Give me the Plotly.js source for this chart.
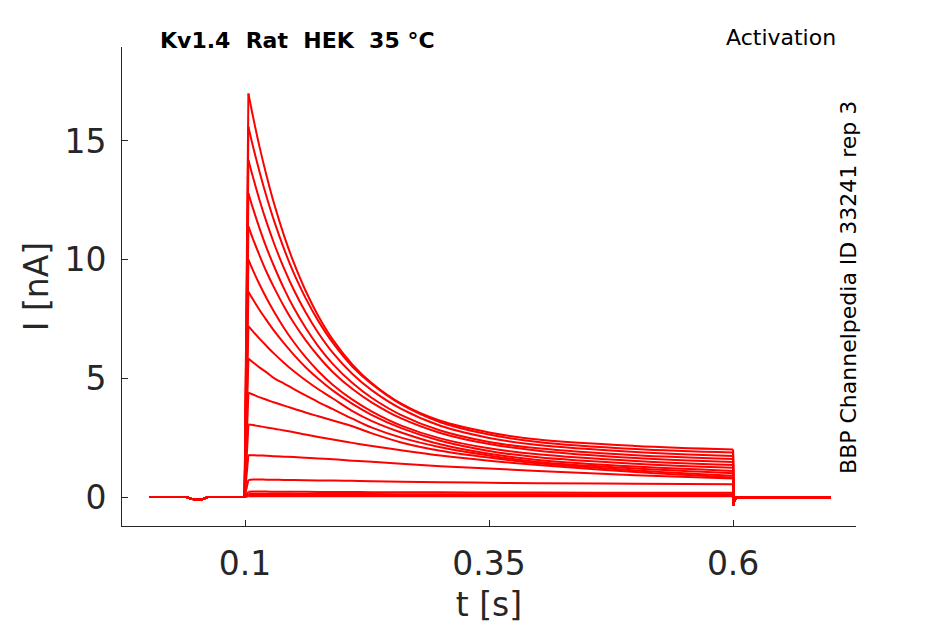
<!DOCTYPE html>
<html>
<head>
<meta charset="utf-8">
<script src="https://cdn.plot.ly/plotly-3.0.1.min.js"></script>
<style>html,body{margin:0;padding:0;background:#fff;}#chart{width:945px;height:624px;}</style>
</head>
<body>
<div id="chart"></div>
<script>
// Time samples (s)
const preT = [0.002, 0.04, 0.045, 0.05, 0.056, 0.062, 0.0995];
const preI = [0.0, 0.0, -0.08, -0.12, -0.1, 0.0, 0.0];
const decayT = [0.1034, 0.108, 0.115, 0.122, 0.13, 0.14, 0.15, 0.162, 0.175, 0.19, 0.21, 0.23, 0.26, 0.3, 0.35, 0.4, 0.5, 0.6];
const postT = [0.6004, 0.601, 0.603, 0.65, 0.7];
const postI = [-0.35, -0.2, -0.03, 0.0, -0.02];

// Current sweeps (nA) read at decayT
const sweep01 = [17.0, 16.05, 14.72, 13.54, 12.32, 11.0, 9.86, 8.69, 7.63, 6.62, 5.58, 4.79, 3.93, 3.21, 2.72, 2.42, 2.15, 2.0];
const sweep02 = [15.6, 14.79, 13.67, 12.65, 11.6, 10.44, 9.42, 8.38, 7.42, 6.49, 5.49, 4.75, 3.9, 3.15, 2.63, 2.32, 2.02, 1.87];
const sweep03 = [14.2, 13.49, 12.48, 11.58, 10.65, 9.62, 8.72, 7.78, 6.91, 6.07, 5.18, 4.49, 3.71, 3.0, 2.49, 2.19, 1.9, 1.73];
const sweep04 = [12.8, 12.17, 11.3, 10.5, 9.69, 8.77, 7.96, 7.13, 6.35, 5.6, 4.8, 4.17, 3.45, 2.8, 2.32, 2.05, 1.76, 1.6];
const sweep05 = [11.4, 10.88, 10.16, 9.48, 8.8, 8.02, 7.33, 6.61, 5.93, 5.26, 4.55, 3.98, 3.31, 2.7, 2.23, 1.95, 1.64, 1.47];
const sweep06 = [10.0, 9.56, 8.94, 8.37, 7.78, 7.11, 6.52, 5.89, 5.3, 4.72, 4.1, 3.6, 3.01, 2.47, 2.05, 1.8, 1.52, 1.35];
const sweep07 = [8.65, 8.33, 7.87, 7.45, 6.99, 6.47, 5.99, 5.47, 4.98, 4.48, 3.92, 3.45, 2.9, 2.37, 1.94, 1.67, 1.4, 1.23];
const sweep08 = [7.2, 6.98, 6.66, 6.36, 6.03, 5.65, 5.3, 4.92, 4.54, 4.15, 3.62, 3.2, 2.72, 2.22, 1.82, 1.56, 1.28, 1.1];
const sweep09 = [5.83, 5.68, 5.45, 5.25, 5.0, 4.78, 4.55, 4.28, 4.0, 3.7, 3.3, 2.92, 2.5, 2.1, 1.75, 1.47, 1.2, 1.0];
const sweep10 = [4.4, 4.32, 4.2, 4.1, 3.98, 3.85, 3.72, 3.56, 3.4, 3.22, 2.98, 2.68, 2.3, 1.95, 1.66, 1.42, 1.12, 0.9];
const sweep11 = [3.06, 3.03, 2.98, 2.93, 2.88, 2.8, 2.73, 2.63, 2.53, 2.42, 2.28, 2.15, 1.97, 1.75, 1.53, 1.35, 1.05, 0.82];
const sweep12 = [1.77, 1.76, 1.75, 1.74, 1.72, 1.7, 1.68, 1.65, 1.62, 1.59, 1.53, 1.48, 1.4, 1.3, 1.2, 1.1, 0.92, 0.78];
const sweep13 = [0.72, 0.74, 0.74, 0.73, 0.73, 0.72, 0.72, 0.71, 0.7, 0.69, 0.68, 0.66, 0.64, 0.62, 0.6, 0.58, 0.56, 0.54];
const sweep14 = [0.22, 0.23, 0.23, 0.23, 0.22, 0.22, 0.22, 0.22, 0.21, 0.21, 0.21, 0.2, 0.2, 0.2, 0.19, 0.19, 0.18, 0.18];
const sweep15 = [0.14, 0.14, 0.14, 0.14, 0.14, 0.14, 0.13, 0.13, 0.13, 0.13, 0.13, 0.13, 0.12, 0.12, 0.12, 0.12, 0.12, 0.12];
const sweep16 = [0.08, 0.08, 0.08, 0.08, 0.08, 0.08, 0.08, 0.08, 0.07, 0.07, 0.07, 0.07, 0.07, 0.07, 0.07, 0.07, 0.07, 0.07];
const sweep17 = [0.03, 0.03, 0.03, 0.03, 0.03, 0.03, 0.03, 0.03, 0.03, 0.03, 0.03, 0.03, 0.03, 0.03, 0.03, 0.03, 0.03, 0.03];

const sweeps = [sweep01, sweep02, sweep03, sweep04, sweep05, sweep06, sweep07, sweep08, sweep09,
                sweep10, sweep11, sweep12, sweep13, sweep14, sweep15, sweep16, sweep17];

const xTickVals = [0.1, 0.35, 0.6];
const xTickText = ['0.1', '0.35', '0.6'];
const yTickVals = [0, 5, 10, 15];
const yTickText = ['0', '5', '10', '15'];

const fontFam = 'DejaVu Sans, sans-serif';
const axisColor = '#262626';
const red = '#ff0000';

const traces = [];
sweeps.forEach(s => {
  const last = decayT.length - 1;
  // baseline + step onset
  traces.push({type: 'scatter', mode: 'lines', x: preT.concat([decayT[0]]), y: preI.concat([s[0]]),
    line: {color: red, width: 2}, hoverinfo: 'skip', showlegend: false});
  // decay during the pulse (smoothed)
  traces.push({type: 'scatter', mode: 'lines', x: decayT, y: s,
    line: {color: red, width: 2, shape: 'spline', smoothing: 1}, hoverinfo: 'skip', showlegend: false});
  // step offset + tail baseline
  traces.push({type: 'scatter', mode: 'lines', x: [decayT[last]].concat(postT), y: [s[last]].concat(postI),
    line: {color: red, width: 2}, hoverinfo: 'skip', showlegend: false});
});

const layout = {
  width: 945, height: 624,
  paper_bgcolor: '#ffffff', plot_bgcolor: '#ffffff',
  margin: {l: 122, r: 89, t: 47, b: 98},
  font: {family: fontFam, color: axisColor},
  showlegend: false,
  xaxis: {
    range: [-0.0261, 0.7259],
    tickvals: xTickVals, ticktext: xTickText,
    ticks: 'inside', ticklen: 6, tickwidth: 1, tickcolor: axisColor,
    showline: true, linecolor: axisColor, linewidth: 1,
    showgrid: false, zeroline: false,
    tickfont: {size: 33, color: axisColor, family: fontFam},
    ticklabelstandoff: 8,
    title: {text: 't [s]', font: {size: 33, color: axisColor, family: fontFam}, standoff: 11}
  },
  yaxis: {
    range: [-1.222, 18.96],
    tickvals: yTickVals, ticktext: yTickText,
    ticks: 'inside', ticklen: 6, tickwidth: 1, tickcolor: axisColor,
    showline: true, linecolor: axisColor, linewidth: 1,
    showgrid: false, zeroline: false,
    tickfont: {size: 33, color: axisColor, family: fontFam},
    ticklabelstandoff: 8,
    title: {text: 'I [nA]', font: {size: 33, color: axisColor, family: fontFam}, standoff: 5}
  },
  annotations: [
    {text: '<b>Kv1.4  Rat  HEK  35 °C</b>', xref: 'paper', yref: 'paper', x: 0.049, y: 1.0146,
     xanchor: 'left', yanchor: 'middle', showarrow: false, font: {size: 22, color: '#000', family: fontFam}},
    {text: 'Activation', xref: 'paper', yref: 'paper', x: 0.9755, y: 1.0188,
     xanchor: 'right', yanchor: 'middle', showarrow: false, font: {size: 22, color: '#000', family: fontFam}},
    {text: 'BBP Channelpedia ID 33241 rep 3', xref: 'paper', yref: 'paper', x: 0.9905, y: 0.497,
     xanchor: 'center', yanchor: 'middle', textangle: -90, showarrow: false, font: {size: 22, color: '#000', family: fontFam}}
  ]
};

Plotly.newPlot('chart', traces, layout, {displayModeBar: false, staticPlot: true});
</script>
</body>
</html>
